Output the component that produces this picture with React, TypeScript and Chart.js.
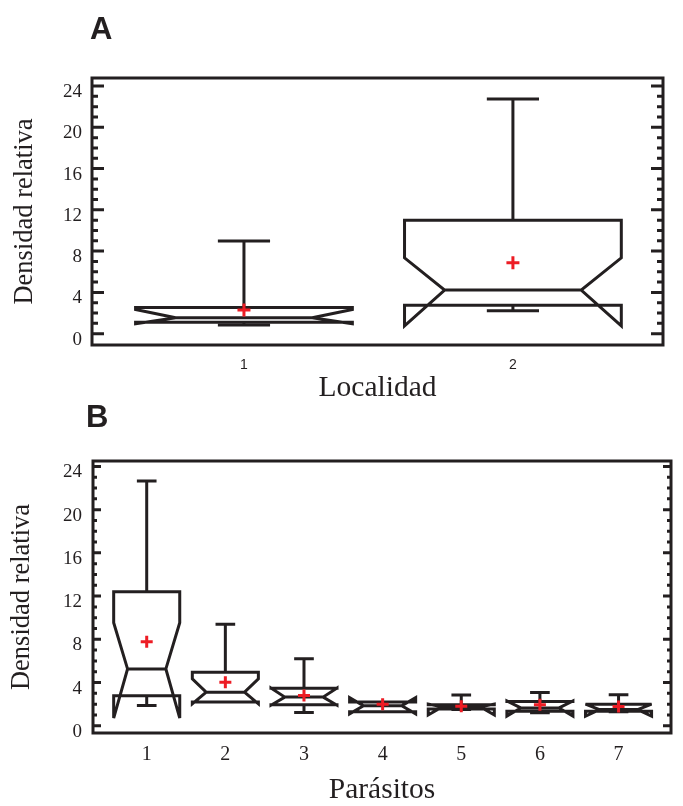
import React, { useEffect, useRef } from 'react';
import { Chart, registerables } from 'chart.js';

Chart.register(...registerables);

// ---------- Panel A : Localidad ----------
const localidades = [1, 2];
const localidadLabels = ['1', '2'];
const locWhiskerLow = [0.85, 2.21];
const locQ1 = [1.1, 2.76];
const locNotchLow = [0.95, 0.76];
const locMedian = [1.55, 4.22];
const locNotchHigh = [2.35, 7.35];
const locQ3 = [2.54, 11.0];
const locWhiskerHigh = [8.97, 22.75];
const locMean = [2.3, 6.87];

// ---------- Panel B : Parásitos ----------
const parasitos = [1, 2, 3, 4, 5, 6, 7];
const parasitoLabels = ['1', '2', '3', '4', '5', '6', '7'];
const parWhiskerLow = [1.88, 2.19, 1.23, 1.3, 1.5, 1.2, 1.3];
const parQ1 = [2.77, 2.19, 1.95, 1.3, 1.55, 1.35, 1.35];
const parNotchLow = [0.71, 2.03, 1.9, 1.1, 1.0, 0.9, 0.9];
const parMedian = [5.26, 3.11, 2.65, 1.85, 1.75, 1.65, 1.5];
const parNotchHigh = [9.54, 4.34, 3.5, 2.6, 2.0, 2.3, 2.0];
const parQ3 = [12.4, 4.96, 3.48, 2.2, 1.95, 2.25, 2.0];
const parWhiskerHigh = [22.65, 9.39, 6.19, 2.2, 2.85, 3.08, 2.86];
const parMean = [7.78, 4.03, 2.8, 2.0, 1.8, 1.95, 1.78];

const yTickValues = [0, 4, 8, 12, 16, 20, 24];

const INK = '#231f20';
const RED = '#ed1c24';

type BoxData = {
  cats: number[]; wl: number[]; q1: number[]; nl: number[]; med: number[];
  nh: number[]; q3: number[]; wh: number[];
};

function framePlugin(o: { major: number; minor: number; minorStep: number; lw: number }) {
  return {
    id: 'frameTicks',
    beforeDatasetsDraw(chart: any) {
      const { ctx, chartArea, scales } = chart;
      const { left, right, top, bottom } = chartArea;
      const y = scales.y;
      ctx.save();
      ctx.strokeStyle = INK;
      ctx.lineWidth = o.lw;
      for (let v = 0; v <= y.max + 1e-9; v += o.minorStep) {
        const py = y.getPixelForValue(v);
        const isMajor = yTickValues.some((m) => Math.abs(m - v) < 1e-6);
        const len = isMajor ? o.major : o.minor;
        ctx.beginPath();
        ctx.moveTo(left, py);
        ctx.lineTo(left + len, py);
        ctx.moveTo(right, py);
        ctx.lineTo(right - len, py);
        ctx.stroke();
      }
      ctx.lineWidth = 3;
      ctx.strokeRect(left, top, right - left, bottom - top);
      ctx.restore();
    },
  };
}

function boxPlugin(d: BoxData, st: { half: number; indent: number; cap: number; lw: number }) {
  return {
    id: 'notchedBox',
    beforeDatasetsDraw(chart: any) {
      const { ctx, scales } = chart;
      const x = scales.x;
      const y = scales.y;
      const Y = (v: number) => y.getPixelForValue(v);
      ctx.save();
      ctx.strokeStyle = INK;
      ctx.lineWidth = st.lw;
      ctx.lineJoin = 'miter';
      ctx.miterLimit = 4;
      d.cats.forEach((c, i) => {
        const cx = x.getPixelForValue(c);
        const L = x.getPixelForValue(c - st.half);
        const R = x.getPixelForValue(c + st.half);
        const ind = ((R - L) / 2) * st.indent;
        const capL = x.getPixelForValue(c - st.cap);
        const capR = x.getPixelForValue(c + st.cap);
        ctx.beginPath();
        if (d.wh[i] > d.q3[i]) {
          ctx.moveTo(cx, Y(d.q3[i]));
          ctx.lineTo(cx, Y(d.wh[i]));
          ctx.moveTo(capL, Y(d.wh[i]));
          ctx.lineTo(capR, Y(d.wh[i]));
        }
        if (d.wl[i] < d.q1[i]) {
          ctx.moveTo(cx, Y(d.q1[i]));
          ctx.lineTo(cx, Y(d.wl[i]));
          ctx.moveTo(capL, Y(d.wl[i]));
          ctx.lineTo(capR, Y(d.wl[i]));
        }
        ctx.stroke();
        ctx.beginPath();
        ctx.moveTo(L, Y(d.q3[i]));
        ctx.lineTo(L, Y(d.nh[i]));
        ctx.lineTo(L + ind, Y(d.med[i]));
        ctx.lineTo(L, Y(d.nl[i]));
        ctx.lineTo(L, Y(d.q1[i]));
        ctx.lineTo(R, Y(d.q1[i]));
        ctx.lineTo(R, Y(d.nl[i]));
        ctx.lineTo(R - ind, Y(d.med[i]));
        ctx.lineTo(R, Y(d.nh[i]));
        ctx.lineTo(R, Y(d.q3[i]));
        ctx.closePath();
        ctx.moveTo(L + ind, Y(d.med[i]));
        ctx.lineTo(R - ind, Y(d.med[i]));
        ctx.stroke();
      });
      ctx.restore();
    },
  };
}

type PanelSpec = {
  height: number;
  padTop: number;
  padRight: number;
  yWidth: number;
  xHeight: number;
  xMin: number;
  xMax: number;
  yMin: number;
  yMax: number;
  cats: number[];
  catLabels: string[];
  means: number[];
  box: BoxData;
  boxStyle: { half: number; indent: number; cap: number; lw: number };
  ticksStyle: { major: number; minor: number; minorStep: number; lw: number };
  meanR: number;
  xTickFont: any;
  xTickPad: number;
  xTitle: string;
  xTitlePad: number;
  yTitlePad: number;
  yTickPad: number;
};

function makeConfig(p: PanelSpec): any {
  const serif = 'Liberation Serif';
  return {
    type: 'scatter',
    data: {
      datasets: [
        {
          data: p.cats.map((c, i) => ({ x: c, y: p.means[i] })),
          pointStyle: 'cross',
          pointRadius: p.meanR,
          pointHoverRadius: p.meanR,
          pointBorderWidth: 3,
          borderColor: RED,
          backgroundColor: RED,
        },
      ],
    },
    options: {
      responsive: false,
      animation: false,
      events: [],
      layout: { padding: { top: p.padTop, right: p.padRight, left: 0, bottom: 0 } },
      plugins: { legend: { display: false }, tooltip: { enabled: false } },
      scales: {
        x: {
          type: 'linear',
          min: p.xMin,
          max: p.xMax,
          afterBuildTicks: (s: any) => {
            s.ticks = p.cats.map((v) => ({ value: v }));
          },
          afterFit: (s: any) => {
            s.height = p.xHeight;
          },
          grid: { display: false, drawTicks: false },
          border: { display: false },
          ticks: {
            autoSkip: false,
            maxRotation: 0,
            padding: p.xTickPad,
            color: INK,
            font: p.xTickFont,
            callback: (_v: any, i: number) => p.catLabels[i],
          },
          title: {
            display: true,
            text: p.xTitle,
            color: INK,
            font: { family: serif, size: 29.5, lineHeight: 1 },
            padding: { top: 0, bottom: p.xTitlePad },
          },
        },
        y: {
          min: p.yMin,
          max: p.yMax,
          afterBuildTicks: (s: any) => {
            s.ticks = yTickValues.map((v) => ({ value: v }));
          },
          afterFit: (s: any) => {
            s.width = p.yWidth;
          },
          grid: { display: false, drawTicks: false },
          border: { display: false },
          ticks: {
            padding: p.yTickPad,
            labelOffset: 6,
            color: INK,
            font: { family: serif, size: 19 },
          },
          title: {
            display: true,
            text: 'Densidad relativa',
            color: INK,
            font: { family: serif, size: 26.5 },
            padding: { top: p.yTitlePad, bottom: 0 },
          },
        },
      },
    },
    plugins: [framePlugin(p.ticksStyle), boxPlugin(p.box, p.boxStyle)],
  };
}

const specA: PanelSpec = {
  height: 410,
  padTop: 78,
  padRight: 20,
  yWidth: 92,
  xHeight: 65,
  xMin: 0.435,
  xMax: 2.558,
  yMin: -1.1,
  yMax: 24.78,
  cats: localidades,
  catLabels: localidadLabels,
  means: locMean,
  box: {
    cats: localidades, wl: locWhiskerLow, q1: locQ1, nl: locNotchLow, med: locMedian,
    nh: locNotchHigh, q3: locQ3, wh: locWhiskerHigh,
  },
  boxStyle: { half: 0.403, indent: 0.37, cap: 0.097, lw: 3 },
  ticksStyle: { major: 12, minor: 6, minorStep: 1, lw: 3 },
  meanR: 6.5,
  xTickFont: { family: 'Liberation Sans', size: 14 },
  xTickPad: 12,
  xTitle: 'Localidad',
  xTitlePad: 7,
  yTitlePad: 9,
  yTickPad: 10,
};

const specB: PanelSpec = {
  height: 396,
  padTop: 51,
  padRight: 12,
  yWidth: 93,
  xHeight: 73,
  xMin: 0.317,
  xMax: 7.667,
  yMin: -0.67,
  yMax: 24.5,
  cats: parasitos,
  catLabels: parasitoLabels,
  means: parMean,
  box: {
    cats: parasitos, wl: parWhiskerLow, q1: parQ1, nl: parNotchLow, med: parMedian,
    nh: parNotchHigh, q3: parQ3, wh: parWhiskerHigh,
  },
  boxStyle: { half: 0.42, indent: 0.42, cap: 0.125, lw: 3 },
  ticksStyle: { major: 8, minor: 4, minorStep: 1, lw: 3 },
  meanR: 6,
  xTickFont: { family: 'Liberation Serif', size: 20 },
  xTickPad: 10,
  xTitle: 'Parásitos',
  xTitlePad: 1,
  yTitlePad: 6,
  yTickPad: 11,
};

function Panel({ spec, top }: { spec: PanelSpec; top: number }) {
  const ref = useRef<HTMLCanvasElement>(null);
  useEffect(() => {
    const chart = new Chart(ref.current as HTMLCanvasElement, makeConfig(spec));
    return () => chart.destroy();
  }, [spec]);
  return (
    <canvas
      ref={ref}
      width={683}
      height={spec.height}
      style={{ position: 'absolute', left: 0, top, width: 683, height: spec.height }}
    />
  );
}

export default function App() {
  const labelStyle: React.CSSProperties = {
    position: 'absolute',
    fontFamily: '"Liberation Sans", Arial, sans-serif',
    fontWeight: 700,
    fontSize: 31,
    lineHeight: 1,
    color: INK,
  };
  return (
    <div style={{ position: 'absolute', left: 0, top: 0, width: 683, height: 806, background: '#fff' }}>
      <Panel spec={specA} top={0} />
      <Panel spec={specB} top={410} />
      <div style={{ ...labelStyle, left: 90, top: 13 }}>A</div>
      <div style={{ ...labelStyle, left: 86, top: 401 }}>B</div>
    </div>
  );
}
